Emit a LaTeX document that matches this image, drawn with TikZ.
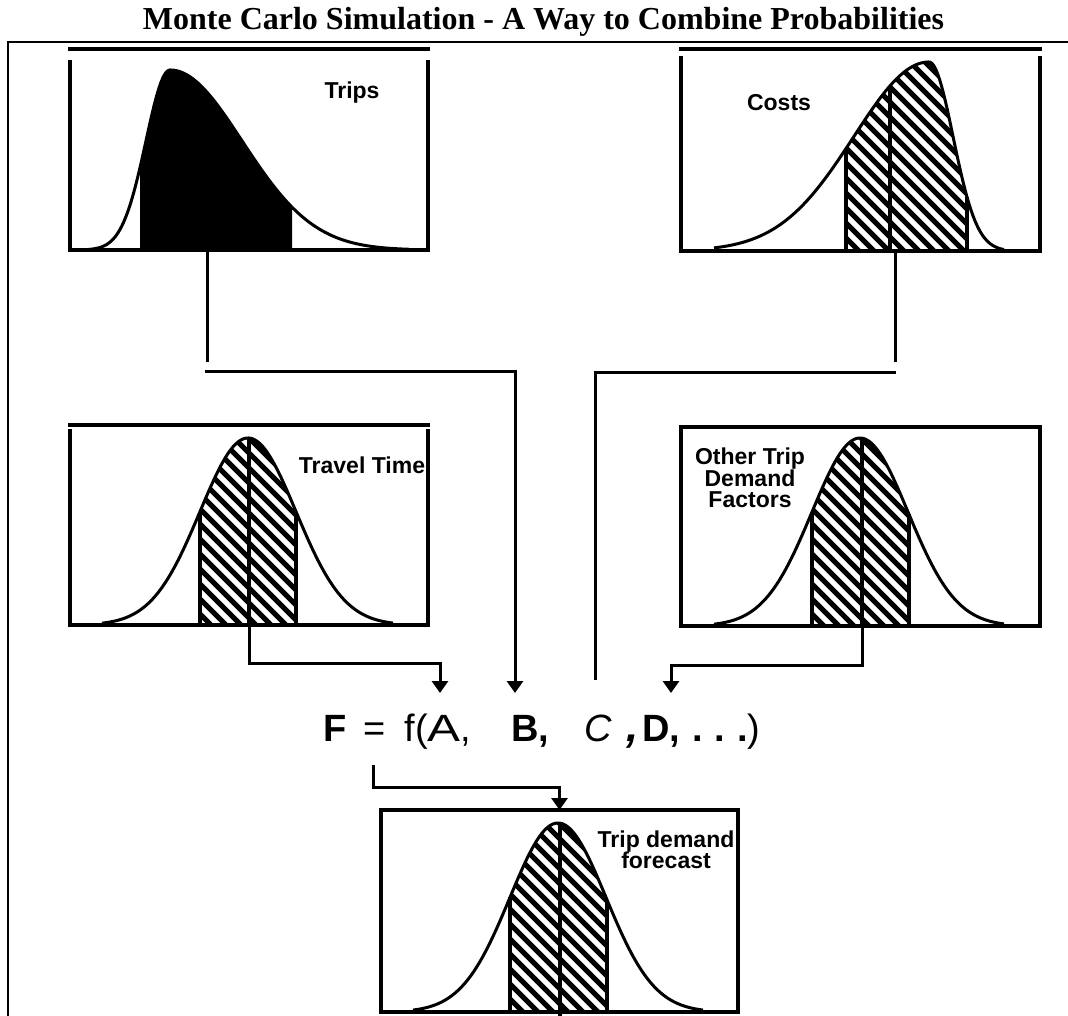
\documentclass[tikz,border=0pt]{standalone}
\usepackage{fontspec}
\setmainfont{Liberation Serif}
\setsansfont{Liberation Sans}
\usepackage{graphicx}
\usepackage{tikz}
\usetikzlibrary{arrows.meta,positioning,calc}
\tikzset{declare function={skewbell(\va,\vb,\vc,\vd)=exp(-0.5*((\va-\vb)/((\va<\vb)*\vc+(1-(\va<\vb))*\vd))^2);}}
% open box: three sides, top line set apart by #2
\newcommand{\openbox}[2]{%
  \draw[boxline] (#1.north west) -- (#1.south west) -- (#1.south east) -- (#1.north east);
  \draw[boxline] ([shift={(-2pt,#2)}]#1.north west) -- ([shift={(2pt,#2)}]#1.north east);}
% mu, sigma left, sigma right, base, height, from, to, cut left, cut right
\newcommand{\hatchdist}[9]{%
  \begin{scope}
    \clip (#8,#4) -- plot[domain=#8:#9,samples=60] (\x,{#4-#5*skewbell(\x,#1,#2,#3)}) -- (#9,#4) -- cycle;
    \foreach \k in {-210,-195,...,150}
      \draw[hatchline] ({#8+\k},{#4-#5-4}) -- ++(230,230);
  \end{scope}
  \draw[curveline] plot[domain=#6:#7,samples=150] (\x,{#4-#5*skewbell(\x,#1,#2,#3)});
  \draw[cutline] (#8,#4) -- (#8,{#4-#5*skewbell(#8,#1,#2,#3)});
  \draw[cutline] (#9,#4) -- (#9,{#4-#5*skewbell(#9,#1,#2,#3)});}

\begin{document}
\begin{tikzpicture}[x=1pt,y=-1pt,
    boxline/.style={line width=4pt},
    curveline/.style={line width=3pt,line join=round},
    cutline/.style={line width=3.5pt},
    hatchline/.style={line width=5pt},
    conn/.style={line width=3pt},
    arr/.style={conn,-{Triangle[width=16pt,length=12pt]}},
    panel/.style={minimum width=358pt,minimum height=190pt,inner sep=0pt,outer sep=0pt},
    lbl/.style={font=\sffamily\bfseries\fontsize{23}{21.5}\selectfont,align=center,inner sep=0pt}
  ]
    \useasboundingbox (0,0) rectangle (1068,1016);

    \node[anchor=base,font=\rmfamily\bfseries\fontsize{32}{32}\selectfont] (title) at (543.5,30)
      {Monte Carlo Simulation - A Way to Combine Probabilities};
    \draw[line width=2pt] (1068,42) -- (8,42) -- (8,1016);

    \node[panel] (trips) at (249,155) {};
    \node[panel,minimum width=359pt,minimum height=195pt] (costs) at (860.5,153.5) {};
    \node[panel,minimum height=196pt] (travel) at (249,527) {};
    \node[panel,minimum width=359pt,minimum height=197pt] (other) at (860.5,527.5) {};
    \node[panel,minimum width=357pt,minimum height=202pt] (forecast) at (559.5,911) {};

    \openbox{trips}{11pt}
    \openbox{costs}{7pt}
    \openbox{travel}{4pt}
    \openbox{other}{2pt}
    \draw[boxline] (forecast.north west) rectangle (forecast.south east);

    % trips
    \fill (140,250) -- plot[domain=140:292,samples=60] (\x,{250-180*skewbell(\x,170,24,72)}) -- (292,250) -- cycle;
    \draw[curveline] plot[domain=85:409,samples=150] (\x,{250-180*skewbell(\x,170,24,72)});
    % costs
    \hatchdist{929}{75}{24}{251}{189}{714}{1004}{846}{967}
    \draw[cutline] (890,251) -- (890,{251-189*skewbell(890,929,75,24)});
    % travel time
    \hatchdist{248}{48}{48}{625}{187}{102}{393}{200}{296}
    \draw[cutline] (249,625) -- (249,438);
    % other factors
    \hatchdist{860}{48}{48}{626}{188}{714}{1004}{812}{909}
    \draw[cutline] (862,626) -- (862,438);
    % forecast
    \hatchdist{558}{48}{48}{1012}{189}{413}{703}{510}{607}
    \draw[cutline] (560,1016) -- (560,823);

    \node[lbl] (tripslbl) at (352,93) {Trips};
    \node[lbl] (costslbl) at (779,103) {Costs};
    \node[lbl] (travellbl) at (362,465) {Travel Time};
    \node[lbl] (otherlbl) at (750,478) {Other Trip\\Demand\\Factors};
    \node[lbl] (forecastlbl) at (666,850) {Trip demand\\forecast};

    \node[anchor=base west,inner sep=0pt,font=\sffamily\fontsize{38}{38}\selectfont] (fml) at (323,741)
      {\textbf{F}\hspace{17pt}=\hspace{19pt}f(\scalebox{1.3}[1]{A},\hspace{40pt}\textbf{B,}\hspace{35pt}\textit{C}\hspace{15pt}{\fontsize{44}{44}\selectfont\bfseries\itshape ,}\hspace{3pt}\textbf{D,}\hspace{12pt}\textbf{.\hspace{12pt}.\hspace{12pt}.})};

    \coordinate (cA) at (440,693);
    \coordinate (cB) at (515,693);
    \coordinate (cC) at (595,680);
    \coordinate (cD) at (671,693);
    \coordinate (kB) at (205,371);
    \coordinate (kC) at (896,372);
    \coordinate (kF) at (373,765);

    \draw[conn] ([xshift=-42pt]trips.south) -- ++(0,112);
    \draw[arr] (kB) -| (cB);
    \draw[conn] ([xshift=34.5pt]costs.south) -- ++(0,111);
    \draw[conn] (kC) -| (cC);
    \draw[arr] (travel.south) -- ++(0,38) -| (cA);
    \draw[arr] ([xshift=1.5pt]other.south) -- ++(0,39) -| (cD);
    \draw[arr] (kF) -- ++(0,22) -| (forecast.north);
  \end{tikzpicture}
\end{document}
